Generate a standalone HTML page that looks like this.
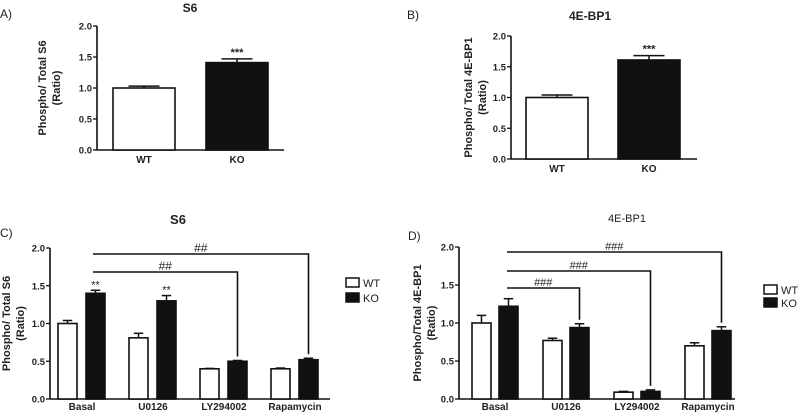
<!DOCTYPE html>
<html><head><meta charset="utf-8"><style>
body{margin:0;background:#fff;width:800px;height:414px;overflow:hidden}
svg{display:block;font-family:"Liberation Sans",Arial,sans-serif}
</style></head><body>
<svg id="s" width="800" height="414" viewBox="0 0 800 414"></svg>
<script>
// Panel A
const aCats=["WT","KO"];
const aVals=[1.0,1.41];
const aErr=[0.03,0.06];
const aSig=["","***"];
// Panel B
const bCats=["WT","KO"];
const bVals=[1.0,1.61];
const bErr=[0.04,0.07];
const bSig=["","***"];
// Panel C
const cCats=["Basal","U0126","LY294002","Rapamycin"];
const cWT=[1.0,0.81,0.40,0.40];
const cWTErr=[0.04,0.06,0.005,0.01];
const cKO=[1.40,1.30,0.50,0.52];
const cKOErr=[0.04,0.07,0.01,0.02];
const cSig=["**","**","",""];
// Panel D
const dCats=["Basal","U0126","LY294002","Rapamycin"];
const dWT=[1.0,0.77,0.09,0.70];
const dWTErr=[0.1,0.03,0.01,0.04];
const dKO=[1.22,0.94,0.10,0.90];
const dKOErr=[0.1,0.05,0.02,0.05];
const ticks=["0.0","0.5","1.0","1.5","2.0"];
const tickVals=[0,0.5,1,1.5,2];

const S=document.getElementById('s');
const NS="http://www.w3.org/2000/svg";
function el(t,a,txt){const e=document.createElementNS(NS,t);for(const k in a)e.setAttribute(k,a[k]);if(txt!==undefined)e.textContent=txt;S.appendChild(e);return e;}

function axes(name,x0,x1,yTop,yBot,titleLines,titleX){
  const y=v=>yBot-(v/2)*(yBot-yTop);
  let e=el('line',{x1:x0,y1:yTop,x2:x0,y2:yBot,stroke:'#111','stroke-width':1.6});
  
  e=el('line',{x1:x0,y1:yBot,x2:x1,y2:yBot,stroke:'#111','stroke-width':1.6});
  
  tickVals.forEach((v,i)=>{
    el('line',{x1:x0-4,y1:y(v),x2:x0,y2:y(v),stroke:'#111','stroke-width':1.3});
    e=el('text',{x:x0-5,y:y(v)+3.5,'text-anchor':'end','font-size':9.5,'font-weight':'bold',fill:'#222'},ticks[i]);
    
  });
  const cy=(yTop+yBot)/2;
  titleLines.forEach((t,i)=>{
    e=el('text',{x:0,y:0,'text-anchor':'middle','font-size':11,'font-weight':'bold',fill:'#222',transform:`translate(${titleX[i]},${cy}) rotate(-90)`},t);
    
  });
  return y;
}
function bar(name,xl,w,v,err,fill,y,yBot){
  const t=y(v);
  el('line',{x1:xl+w/2,y1:t,x2:xl+w/2,y2:y(v+err),stroke:'#111','stroke-width':1.5});
  el('line',{x1:xl+w*0.25,y1:y(v+err),x2:xl+w*0.75,y2:y(v+err),stroke:'#111','stroke-width':1.5});
  const e=el('rect',{x:xl,y:t,width:w,height:yBot-t,fill:fill,stroke:'#111','stroke-width':1.6});
  
}
function label(t,x,y,sz,bold,name,anchor){const e=el('text',{x,y,'font-size':sz,'font-weight':bold?'bold':'normal','text-anchor':anchor||'middle',fill:'#222'},t);return e;}

// Panel A
label("A)",0,18,12,false,'panel-a-label','start');
label("S6",190,12,12,true,'panel-a-title');
{const y=axes('panel-a',97,284,26,150,["Phospho/ Total S6","(Ratio)"],[46,60]);
 const lefts=[113,206];
 aCats.forEach((c,i)=>{bar('bar-a-'+c.toLowerCase(),lefts[i],62,aVals[i],aErr[i],i?'#111':'#fff',y,150);
  label(c,lefts[i]+31,163,10,true,'panel-a-x-label');
  if(aSig[i])label(aSig[i],lefts[i]+31,y(aVals[i]+aErr[i])-3,11,true,'panel-a-significance');});}
// Panel B
label("B)",407,19,12,false,'panel-b-label','start');
label("4E-BP1",590,20,12,true,'panel-b-title');
{const y=axes('panel-b',511,697,36,159,["Phospho/ Total 4E-BP1","(Ratio)"],[472,486]);
 const lefts=[526,618];
 bCats.forEach((c,i)=>{bar('bar-b-'+c.toLowerCase(),lefts[i],62,bVals[i],bErr[i],i?'#111':'#fff',y,159);
  label(c,lefts[i]+31,172,10,true,'panel-b-x-label');
  if(bSig[i])label(bSig[i],lefts[i]+31,y(bVals[i]+bErr[i])-3,11,true,'panel-b-significance');});}
// Panel C
label("C)",0,237,12,false,'panel-c-label','start');
label("S6",178,224,13,true,'panel-c-title');
{const yBot=399,y=axes('panel-c',50,330,248,yBot,["Phospho/ Total S6","(Ratio)"],[10,24]);
 const w=19,step=71,first=58;
 cCats.forEach((c,i)=>{const xl=first+i*step;
  bar('bar-c-wt-'+i,xl,w,cWT[i],cWTErr[i],'#fff',y,yBot);
  bar('bar-c-ko-'+i,xl+28,w,cKO[i],cKOErr[i],'#111',y,yBot);
  label(c,xl+24,410,10,true,'panel-c-x-label');
  if(cSig[i])label(cSig[i],xl+28+w/2,y(cKO[i]+cKOErr[i])-2,11,false,'panel-c-significance');});
 const kx=i=>first+i*step+28+w/2;
 const br=(to,ly,txt)=>{const e=el('polyline',{points:`93,${ly} ${kx(to)},${ly} ${kx(to)},${y(cKO[to]+cKOErr[to])-4}`,fill:'none',stroke:'#111','stroke-width':1.6});
  
  label(txt,(93+kx(to))/2,ly-2,12,false,'panel-c-comparison-label');};
 br(3,254,"##");br(2,272,"##");
 el('rect',{x:346,y:278,width:13,height:9,fill:'#fff',stroke:'#111','stroke-width':1.5});
 label("WT",363,287,11,false,'legend-wt-label','start');
 el('rect',{x:346,y:293,width:13,height:9,fill:'#111',stroke:'#111','stroke-width':1.5});
 label("KO",363,302,11,false,'legend-ko-label','start');}
// Panel D
label("D)",408,240,12,false,'panel-d-label','start');
label("4E-BP1",627,222,11,false,'panel-d-title');
{const yBot=399,y=axes('panel-d',459,735,247,yBot,["Phospho/Total 4E-BP1","(Ratio)"],[421,435]);
 const w=19,step=71,first=472;
 dCats.forEach((c,i)=>{const xl=first+i*step;
  bar('bar-d-wt-'+i,xl,w,dWT[i],dWTErr[i],'#fff',y,yBot);
  bar('bar-d-ko-'+i,xl+27,w,dKO[i],dKOErr[i],'#111',y,yBot);
  label(c,xl+23,410,10,true,'panel-d-x-label');});
 const kx=i=>first+i*step+27+w/2;
 const br=(to,ly,txt)=>{const e=el('polyline',{points:`507,${ly} ${kx(to)},${ly} ${kx(to)},${y(dKO[to]+dKOErr[to])-4}`,fill:'none',stroke:'#111','stroke-width':1.6});
  
  label(txt,(507+kx(to))/2,ly-2,11,false,'panel-d-comparison-label');};
 br(3,252,"###");br(2,271,"###");br(1,288,"###");
 el('rect',{x:764,y:285,width:13,height:9,fill:'#fff',stroke:'#111','stroke-width':1.5});
 label("WT",781,294,11,false,'legend-d-wt-label','start');
 el('rect',{x:764,y:298,width:13,height:9,fill:'#111',stroke:'#111','stroke-width':1.5});
 label("KO",781,307,11,false,'legend-d-ko-label','start');}
</script>
</body></html>
